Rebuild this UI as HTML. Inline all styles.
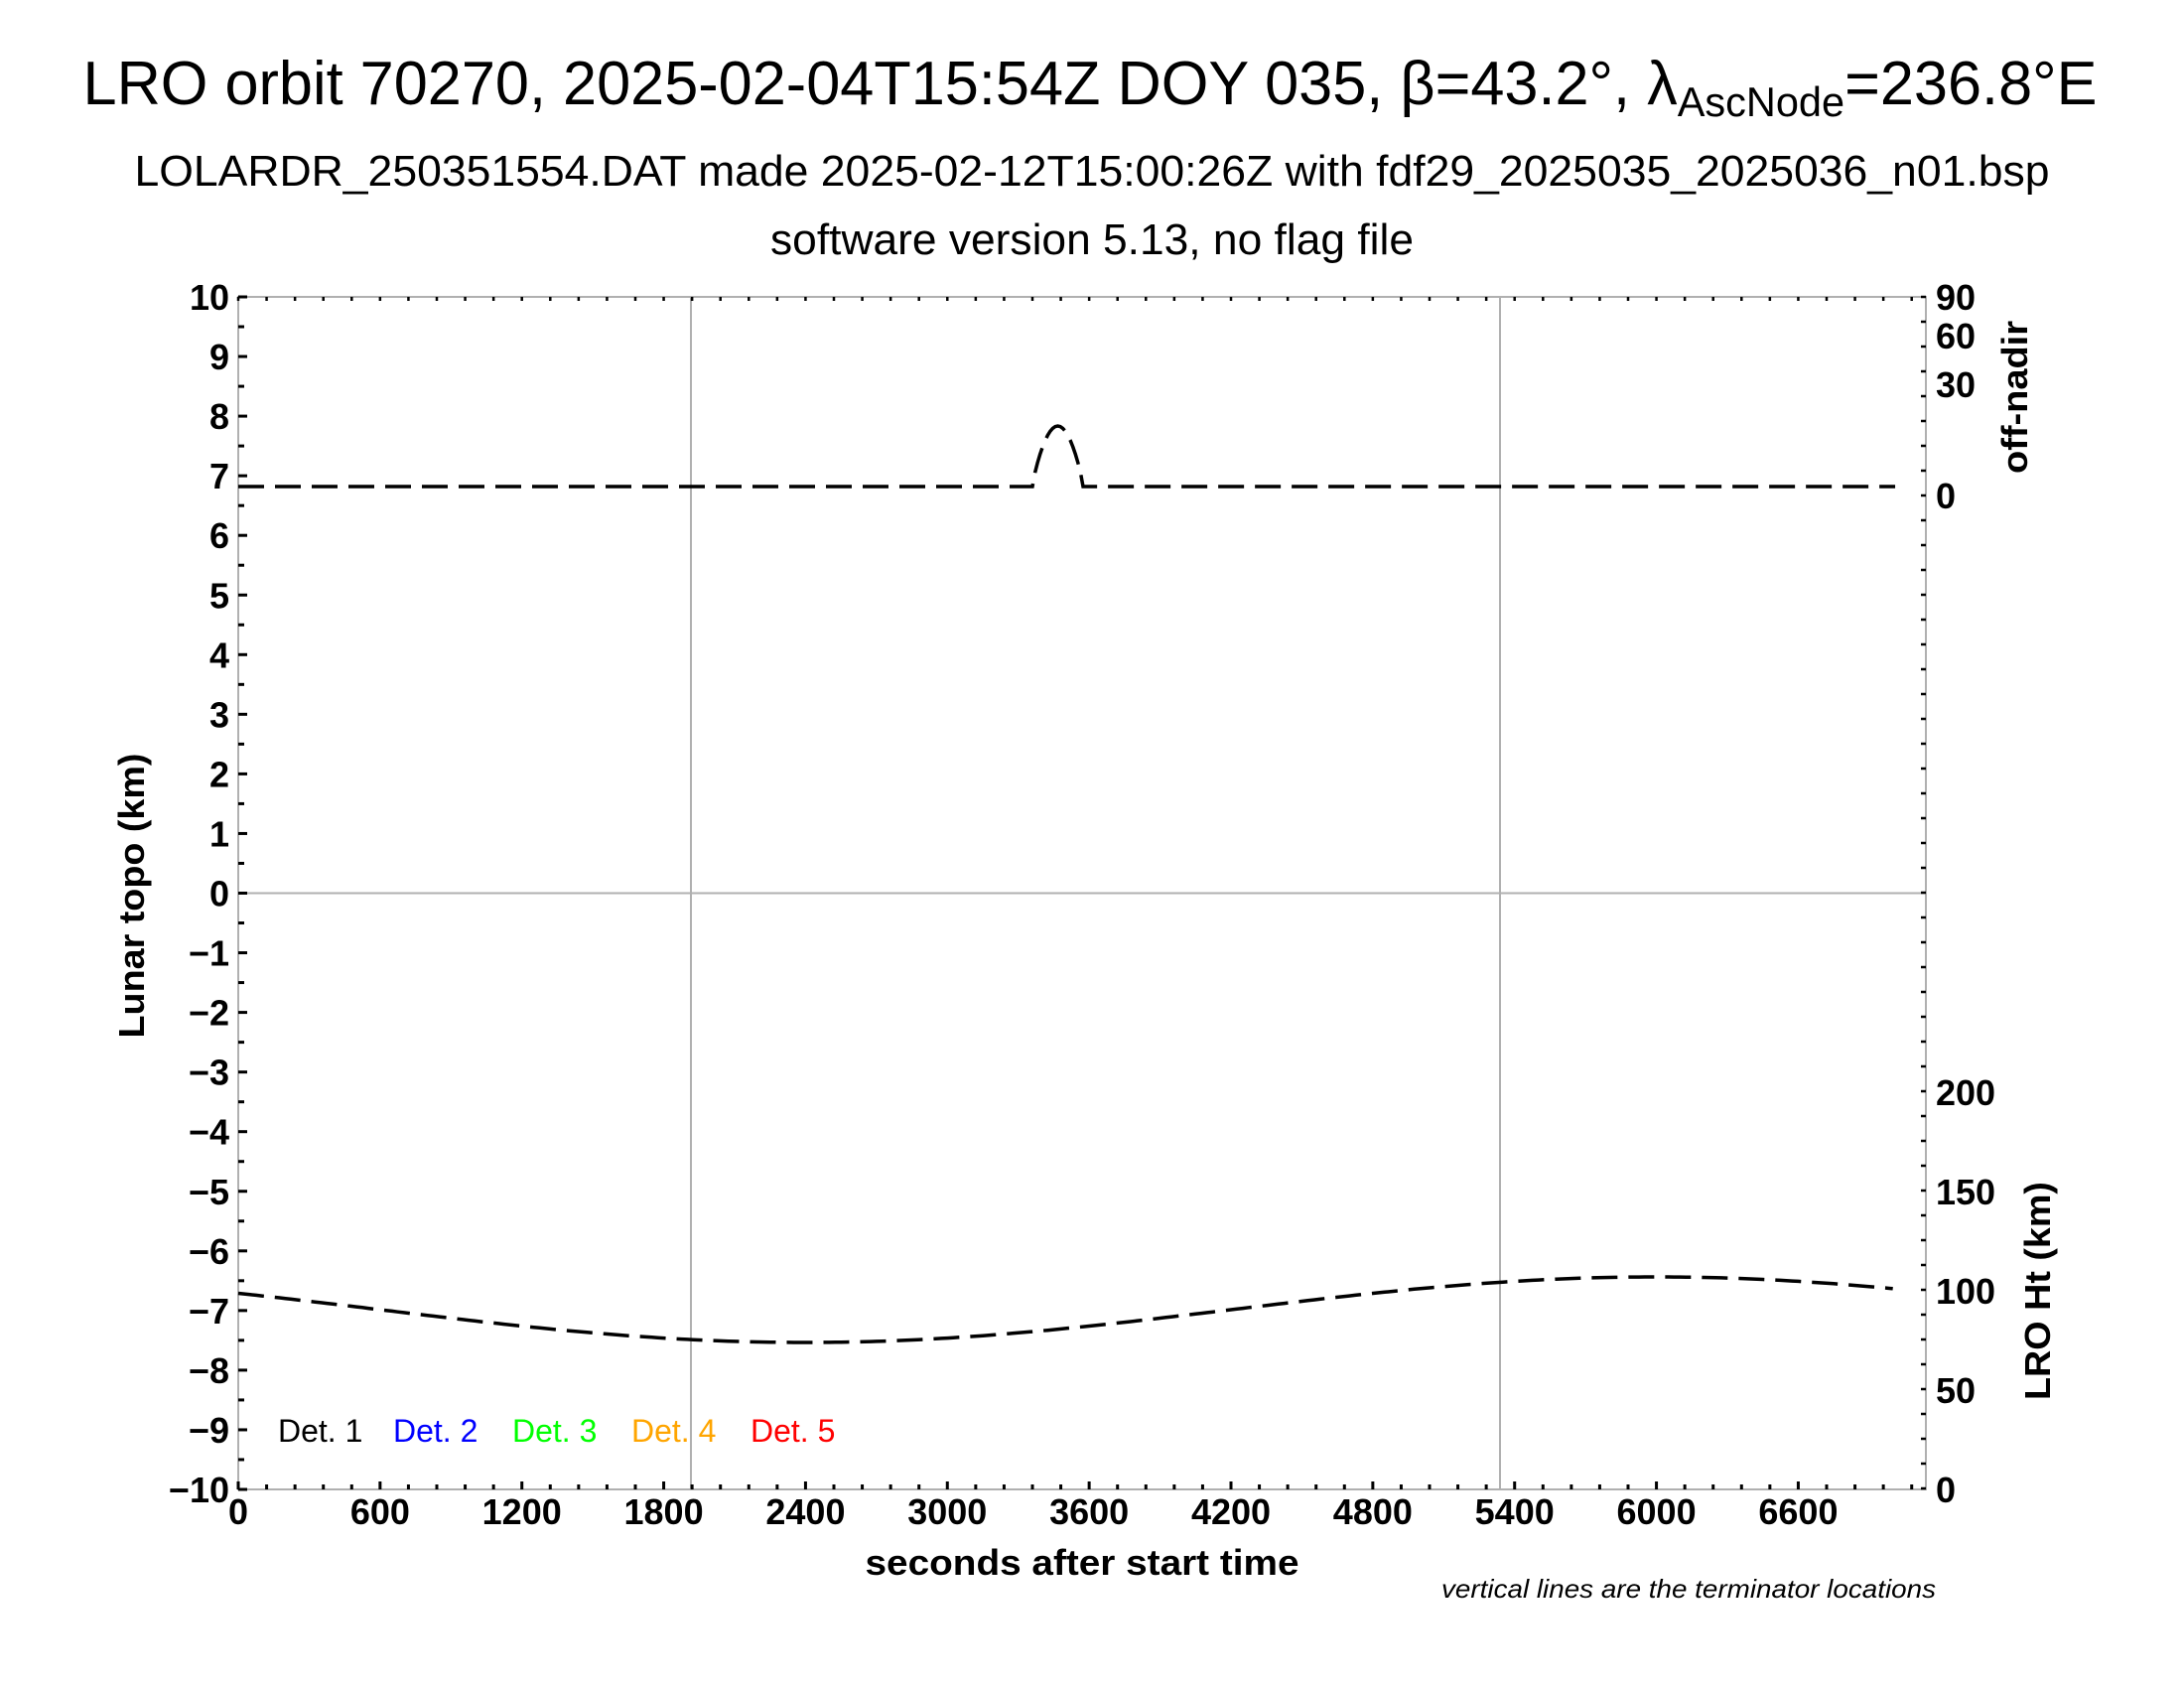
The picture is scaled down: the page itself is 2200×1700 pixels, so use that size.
<!DOCTYPE html>
<html><head><meta charset="utf-8"><style>
html,body{margin:0;padding:0;background:#fff;}
svg{display:block;}
text{font-family:"Liberation Sans",Arial,sans-serif;fill:#000;}
.b{font-weight:bold;}
</style></head><body>
<svg id="s" width="2200" height="1700" viewBox="0 0 2200 1700" xmlns="http://www.w3.org/2000/svg">
<rect width="2200" height="1700" fill="#fff"/>
<text x="1098" y="105" font-size="62" text-anchor="middle" textLength="2029" lengthAdjust="spacingAndGlyphs">LRO orbit 70270, 2025-02-04T15:54Z DOY 035, β=43.2°, λ<tspan font-size="42" dy="12">AscNode</tspan><tspan dy="-12">=236.8°E</tspan></text>
<text x="1100" y="187" font-size="44" text-anchor="middle" textLength="1929" lengthAdjust="spacingAndGlyphs">LOLARDR_250351554.DAT made 2025-02-12T15:00:26Z with fdf29_2025035_2025036_n01.bsp</text>
<text x="1100" y="256" font-size="44" text-anchor="middle" textLength="648" lengthAdjust="spacingAndGlyphs">software version 5.13, no flag file</text>
<g id="grid" stroke="#b0b0b0" stroke-width="2" fill="none">
<line x1="240" y1="899.5" x2="1940" y2="899.5"/>
<line x1="696" y1="299" x2="696" y2="1500"/>
<line x1="1511" y1="299" x2="1511" y2="1500"/>
<rect x="240" y="299" width="1700" height="1201"/>
</g>
<g id="ticks" stroke="#000" stroke-width="3"></g>
<g id="lab" class="b" font-size="36"></g>
<path id="nadir" fill="none" stroke="#000" stroke-width="3.5" stroke-dasharray="26,11"/>
<path id="ht" fill="none" stroke="#000" stroke-width="3.5" stroke-dasharray="26,11"/>
<text x="1090" y="1586" font-size="36" class="b" text-anchor="middle" textLength="437" lengthAdjust="spacingAndGlyphs">seconds after start time</text>
<text x="1950" y="1609" font-size="26" font-style="italic" text-anchor="end" textLength="498" lengthAdjust="spacingAndGlyphs">vertical lines are the terminator locations</text>
<text transform="translate(145,902) rotate(-90)" font-size="36" class="b" text-anchor="middle" textLength="287" lengthAdjust="spacingAndGlyphs">Lunar topo (km)</text>
<text transform="translate(2042,400) rotate(-90)" font-size="36" class="b" text-anchor="middle" textLength="154" lengthAdjust="spacingAndGlyphs">off-nadir</text>
<text transform="translate(2065,1300) rotate(-90)" font-size="36" class="b" text-anchor="middle" textLength="220" lengthAdjust="spacingAndGlyphs">LRO Ht (km)</text>
<g font-size="32">
<text x="280" y="1452">Det. 1</text>
<text x="396" y="1452" style="fill:#0000ff">Det. 2</text>
<text x="516" y="1452" style="fill:#00ff00">Det. 3</text>
<text x="636" y="1452" style="fill:#ffa500">Det. 4</text>
<text x="756" y="1452" style="fill:#ff0000">Det. 5</text>
</g>
</svg>
<script>
var NS="http://www.w3.org/2000/svg";
function el(p,n,a,t){var e=document.createElementNS(NS,n);for(var k in a)e.setAttribute(k,a[k]);if(t!==undefined)e.textContent=t;document.getElementById(p).appendChild(e);}
var X=function(t){return 240+t*1700/7140;};
var Y=function(v){return 899.5-v*60.05;};
for(var v=-10;v<=10;v+=0.5){var y=Y(v);var L=(v%1===0)?9:6;
 el("ticks","line",{x1:240,y1:y,x2:240+L,y2:y});}
for(var v=-10;v<=10;v++){el("lab","text",{x:231,y:Y(v)+13,"text-anchor":"end"},(v<0?"\u2212"+(-v):""+v));}
for(var t=0;t<=7140;t+=120){var x=X(t);var L=(t%600===0)?8:5;
 el("ticks","line",{x1:x,y1:1500,x2:x,y2:1500-L});
 el("ticks","line",{x1:x,y1:299,x2:x,y2:299+4,"stroke-width":2.5});}
for(var t=0;t<=6600;t+=600){el("lab","text",{x:X(t),y:1535,"text-anchor":"middle"},""+t);}
for(var y=299;y<=1500;y+=25){el("ticks","line",{x1:1940,y1:y,x2:1935,y2:y,"stroke-width":2.5});}
var rl=[[90,299],[60,338],[30,387],[0,499],[200,1100],[150,1200],[100,1300],[50,1400],[0,1500]];
rl.forEach(function(r){el("lab","text",{x:1950,y:r[1]+13},""+r[0]);});
var d="M "+X(0)+" 490";
d+=" L 1040 490";
for(var i=0;i<=20;i++){var x=1040+i*2.55;var s=Math.sin(Math.PI*i/20);d+=" L "+x+" "+(490-61*Math.pow(s,0.8));}
d+=" L "+X(7010)+" 490";
document.getElementById("nadir").setAttribute("d",d);
var h="";
for(var t=0;t<=7010;t+=25){var hv=90.5-16.5*Math.cos(2*Math.PI*(t-2400)/7200);h+=(t?" L ":"M ")+X(t).toFixed(1)+" "+(1500-2*hv).toFixed(1);}
document.getElementById("ht").setAttribute("d",h);
</script>
</body></html>
